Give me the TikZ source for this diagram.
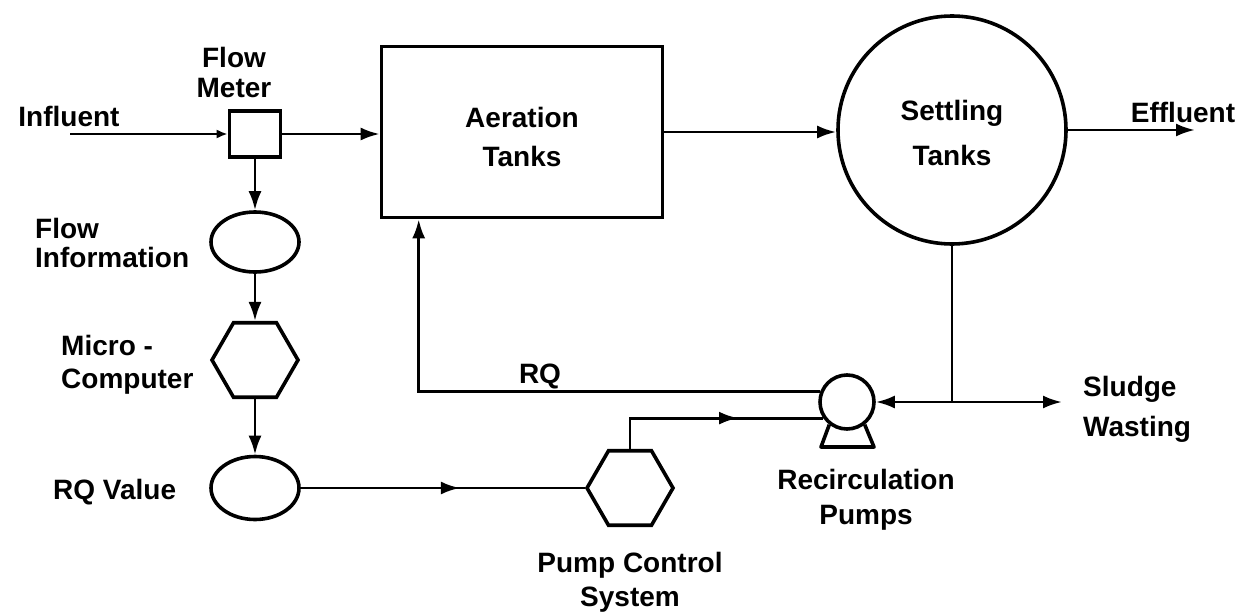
\documentclass[tikz,border=0pt]{standalone}
\usepackage{fontspec}
\setmainfont{Liberation Sans}
\usetikzlibrary{shapes.geometric,arrows.meta,decorations.markings}
\begin{document}
\begin{tikzpicture}[x=1pt,y=-1pt,
  lbl/.style={font=\fontsize{28}{34}\selectfont\bfseries, inner sep=0pt},
  shp/.style={draw, line width=3.6pt, inner sep=0pt},
  con/.style={line width=2.8pt},
  tip/.style={-{Latex[length=19pt,width=13pt]}},
  midarrow/.style={postaction={decorate}, decoration={markings, mark=at position #1 with {\arrow{Latex[length=19pt,width=13pt]}}}},
  hex/.style={shp, regular polygon, regular polygon sides=6, minimum size=86pt},
]
\useasboundingbox (0,0) rectangle (1258,613);
\fill[white] (0,0) rectangle (1258,613);

% nodes
\node[shp, rectangle, minimum width=51pt, minimum height=46pt] (fm) at (255,134) {};
\node[shp, rectangle, minimum width=281pt, minimum height=171pt] (aer) at (522,132) {};
\node[shp, circle, minimum size=228pt] (set) at (952,130) {};
\node[shp, ellipse, minimum width=88pt, minimum height=60pt] (fi) at (255,242) {};
\node[hex] (mc) at (255,360) {};
\node[shp, ellipse, minimum width=88pt, minimum height=63pt] (rq) at (255,488) {};
\node[hex] (pc) at (630,488) {};
\node[shp, circle, minimum size=54pt] (pump) at (847,402) {};
\draw[line width=3.6pt, line join=round] (pump.-128) -- (821,447) -- (874,447) -- (pump.-52);

% free ends
\coordinate (inf) at (70,134);
\coordinate (eff) at (1195,130);
\coordinate (jn) at (set.south |- pump.east);
\coordinate (slw) at (1062,402);

% connectors
\draw[con, -{Latex[length=11pt,width=9pt]}] (inf) -- (fm.west);
\draw[con, tip] (fm.east) -- (fm.east -| aer.west);
\draw[con, tip] (aer.east) -- (aer.east -| set.west);
\draw[con, tip] (set.east) -- (eff);
\draw[con, tip] (fm.south) -- (fi.north);
\draw[con, tip] (fi.south) -- (mc.north);
\draw[con, tip] (mc.south) -- (rq.north);
\draw[con, midarrow=0.56] (rq.east) -- (pc.west);
\draw[con, midarrow=0.62] (pc.north) |- (pump.214);
\draw[con, tip] (pump.158) -| ([xshift=39pt]aer.south west);
\draw[con] (set.south) -- (jn);
\draw[con, tip] (jn) -- (pump.east);
\draw[con, tip] (jn) -- (slw);

% labels
\node[lbl, align=center] (laer) at ([yshift=-5pt]aer.center) {Aeration\\[5pt]Tanks};
\node[lbl, align=center] (lset) at ([yshift=-3pt]set.center) {Settling\\[11pt]Tanks};
\node[lbl, align=center] (lfm) at (234,72) {Flow\\[-4pt]Meter};
\node[lbl] (linf) at (69,116) {Influent};
\node[lbl, align=left, anchor=west] (lfi) at (35,243) {Flow\\[-5pt]Information};
\node[lbl, align=left, anchor=west] (lmc) at (61,365) {Micro -\\[-1pt]Computer};
\node[lbl, anchor=west] (lrq) at (53,492) {RQ Value};
\node[lbl] (lrqt) at (540,376) {RQ};
\node[lbl] (leff) at (1183,112) {Effluent};
\node[lbl, align=left, anchor=west] (lsw) at (1083,409) {Sludge\\[6pt]Wasting};
\node[lbl, align=center] (lrp) at (866,500) {Recirculation\\[1pt]Pumps};
\node[lbl, align=center] (lpc) at (630,582) {Pump Control\\System};
\end{tikzpicture}
\end{document}
